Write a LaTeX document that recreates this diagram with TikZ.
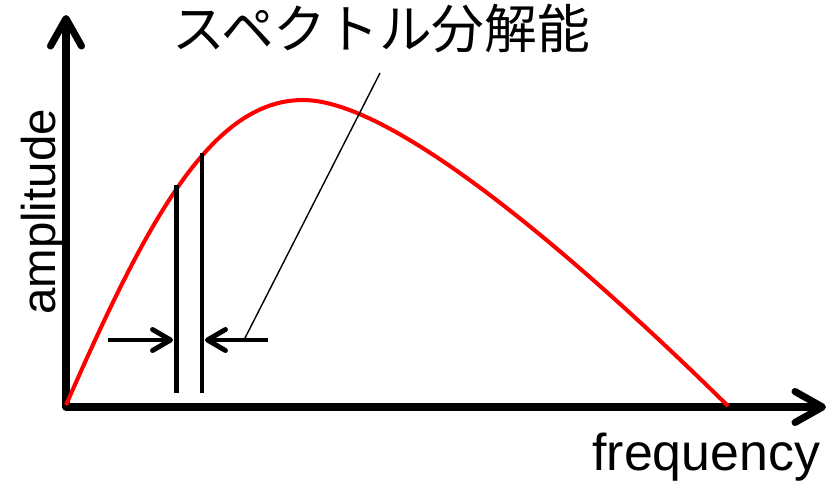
\documentclass[tikz,border=0pt]{standalone}
\usepackage{fontspec}
\setmainfont{Liberation Sans}
\newfontfamily\jpfont{Noto Sans CJK JP}
\usetikzlibrary{arrows.meta}
\begin{document}
\begin{tikzpicture}[x=0.02cm, y=-0.02cm, line join=round,
	axis/.style={line width=4pt, {Straight Barb[length=0.55cm, width=0.62cm, round]}-{Straight Barb[length=0.55cm, width=0.62cm, round]}},
	gap/.style={line width=2.8pt, -{Straight Barb[length=0.36cm, width=0.42cm, round]}},
	bar/.style={line width=2.8pt},
	label/.style={font=\fontsize{29.5pt}{29.5pt}\selectfont, inner sep=0pt}]
	\useasboundingbox (0,0) rectangle (828,481);
	\path
	(66,407) coordinate (O)
	(66,15) coordinate (ytip)
	(826,407) coordinate (xtip)
	(303,100) coordinate (peak)
	(728,406) coordinate (end)
	(176.5,185) coordinate (b1top) (176.5,393) coordinate (b1bot)
	(202,153) coordinate (b2top) (202,393) coordinate (b2bot)
	(108,340) coordinate (la) (173,340) coordinate (lb)
	(268,340) coordinate (ra) (205,340) coordinate (rb)
	(245,338) coordinate (foot)
	(380,73) coordinate (head)
	;
	% axes
	\draw[axis] (ytip) -- (O) -- (xtip);
	\node[label, anchor=base west] (freq) at (592,470) {frequency};
	\node[label, rotate=90, anchor=base] (amp) at (55,212) {\fontsize{27pt}{27pt}\selectfont amplitude};
	% spectrum
	\draw[red, line width=2.3pt] (66,405) .. controls (145,225) and (210,100) .. (peak)
	.. controls (400,100) and (600,280) .. (end);
	% resolution
	\draw[bar] (b1top) -- (b1bot);
	\draw[bar] (b2top) -- (b2bot);
	\draw[gap] (la) -- (lb);
	\draw[gap] (ra) -- (rb);
	\draw[line width=0.8pt] (foot) -- (head);
	\node[inner sep=0pt, font=\jpfont\fontsize{30pt}{30pt}\selectfont] (title) at (381,29) {スペクトル分解能};
\end{tikzpicture}
\end{document}
